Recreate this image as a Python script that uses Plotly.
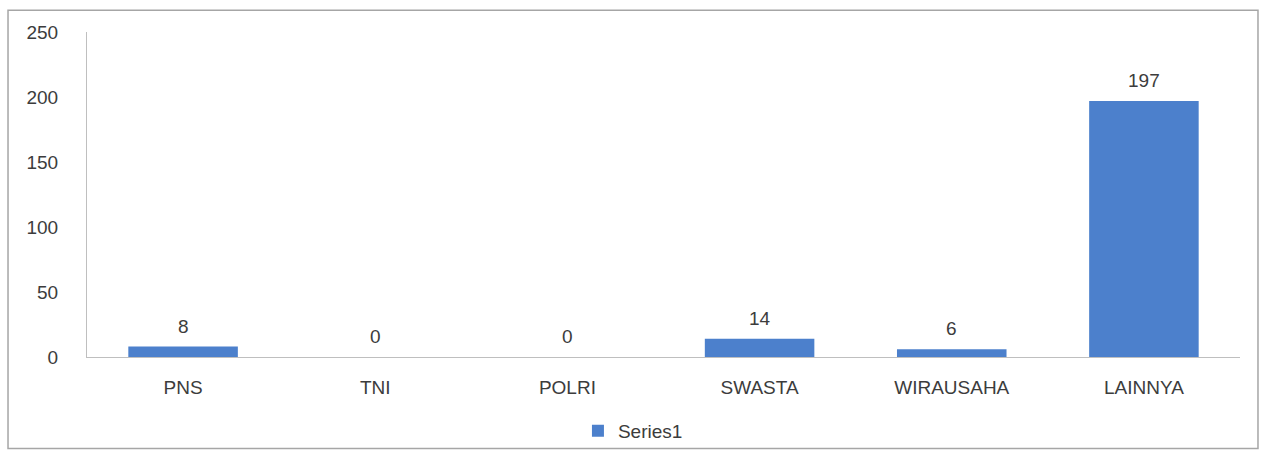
import plotly.graph_objects as go

categories = ["PNS", "TNI", "POLRI", "SWASTA", "WIRAUSAHA", "LAINNYA"]
values = [8, 0, 0, 14, 6, 197]
y_ticks = [0, 50, 100, 150, 200, 250]
series_name = "Series1"

BAR_COLOR = "#4C80CC"
TEXT_COLOR = "#3C3C3C"
FONT = "Liberation Sans, Arial, sans-serif"

fig = go.Figure()
fig.add_trace(go.Bar(
    x=categories, y=values, name=series_name,
    marker=dict(color=BAR_COLOR, line=dict(width=0)),
    width=0.57,
))

# data labels drawn at data coordinates via the axes
for c, v in zip(categories, values):
    fig.add_annotation(x=c, y=v, xref="x", yref="y", text=str(v), showarrow=False,
                       yanchor="bottom", yshift=8,
                       font=dict(size=19, color=TEXT_COLOR, family=FONT))

fig.update_layout(
    width=1267, height=462,
    margin=dict(l=87, r=27, t=32, b=100),
    paper_bgcolor="white", plot_bgcolor="white",
    font=dict(family=FONT, size=19, color=TEXT_COLOR),
    showlegend=True,
    legend=dict(orientation="h", x=0.4735, xanchor="center", y=-0.227, yanchor="middle",
                itemwidth=30, bgcolor="rgba(0,0,0,0)",
                font=dict(size=19, color=TEXT_COLOR)),
    xaxis=dict(showline=True, linecolor="#BFBFBF", linewidth=1, showgrid=False,
               ticks="", ticklabelstandoff=13, tickfont=dict(size=19, color=TEXT_COLOR)),
    yaxis=dict(range=[0, 250], tickvals=y_ticks, showline=True, linecolor="#BFBFBF",
               linewidth=1, showgrid=False, zeroline=False, ticks="",
               ticklabelstandoff=24, tickfont=dict(size=19, color=TEXT_COLOR)),
    shapes=[dict(type="rect", xref="paper", yref="paper",
                 x0=-0.0685, x1=1.0156, y0=-0.2818, y1=1.0667,
                 line=dict(color="#A6A6A6", width=1.5), fillcolor="rgba(0,0,0,0)")],
)

post = ("var d=document.getElementById('{plot_id}');"
        "document.body.style.margin='0';"
        "d.style.position='fixed';d.style.left='0';d.style.top='0';")
fig.write_html("out.html", config={"displayModeBar": False}, post_script=post)
